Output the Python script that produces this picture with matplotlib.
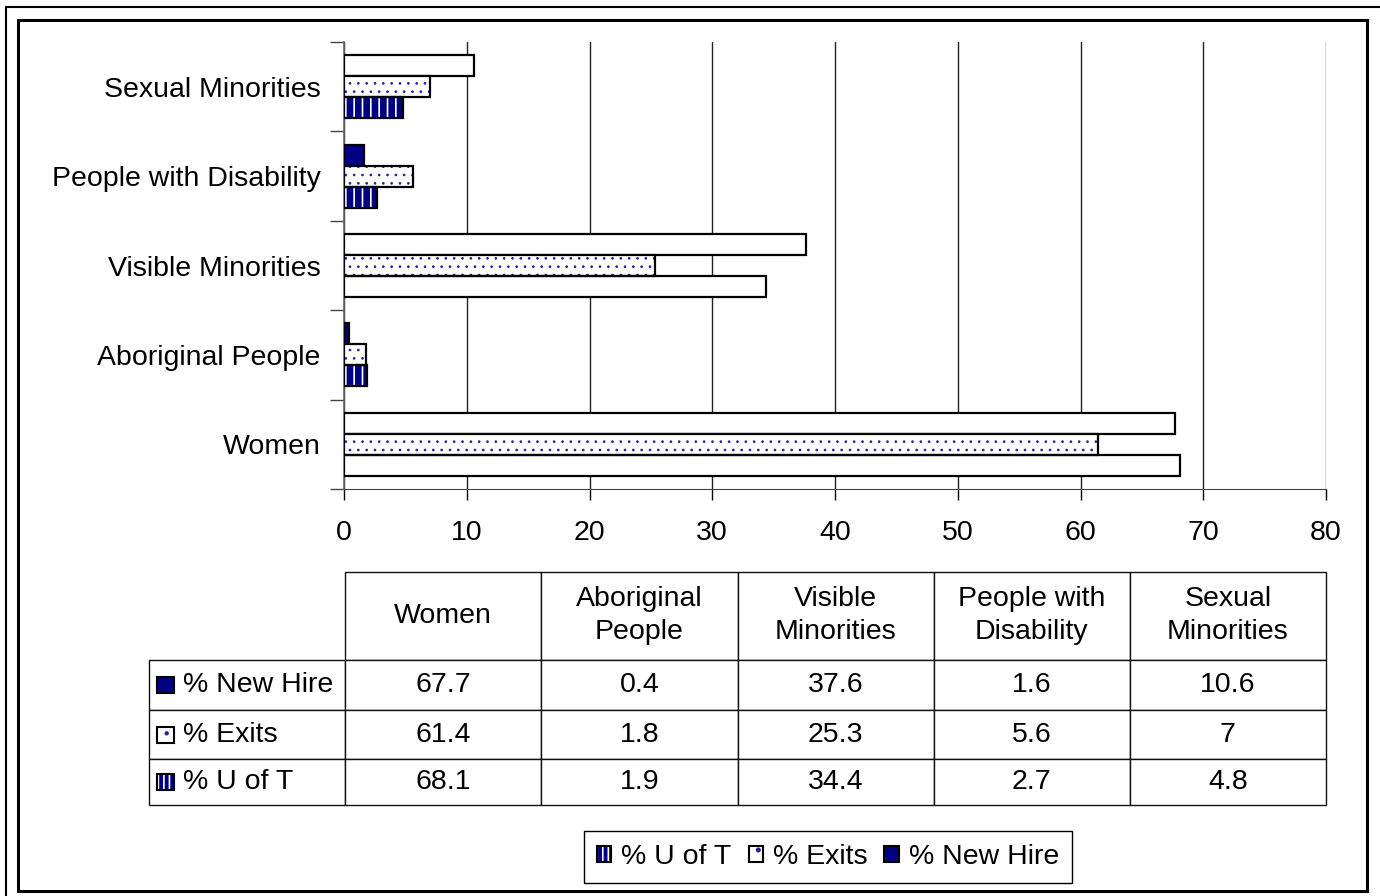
import matplotlib
matplotlib.use('Agg')
import matplotlib.pyplot as plt
from matplotlib.patches import Patch, Rectangle
import numpy as np

plt.rcParams['font.family'] = ['Liberation Sans', 'DejaVu Sans']
plt.rcParams['hatch.linewidth'] = 1.2

# Data (bottom to top on the chart, left to right in the table)
categories = ['Women', 'Aboriginal People', 'Visible Minorities',
              'People with Disability', 'Sexual Minorities']
header_labels = ['Women', 'Aboriginal\nPeople', 'Visible\nMinorities',
                 'People with\nDisability', 'Sexual\nMinorities']
new_hire = [67.7, 0.4, 37.6, 1.6, 10.6]
exits = [61.4, 1.8, 25.3, 5.6, 7]
u_of_t = [68.1, 1.9, 34.4, 2.7, 4.8]
row_names = ['% New Hire', '% Exits', '% U of T']
x_ticks = [0, 10, 20, 30, 40, 50, 60, 70, 80]

NAVY = '#000080'
DOT = '#2020a0'
FS = 20.5
W, H = 1380, 896


def thin_hatch(patches, lw):
    for p in patches:
        if hasattr(p, 'set_hatch_linewidth'):
            p.set_hatch_linewidth(lw)


fig = plt.figure(figsize=(W / 100, H / 100), dpi=100)
ax = fig.add_axes([344 / W, 1 - 489 / H, (1326 - 344) / W, (489 - 42) / H])

y = np.arange(len(categories))
h = 0.235

# % New Hire (top bar of each group) - long bars come out white in the original
ax.barh(y + h, new_hire, height=h,
        color=[NAVY if v <= 10 else 'white' for v in new_hire],
        edgecolor='black', linewidth=1.6, zorder=3)

# % Exits - white with blue dots
ex_bars = ax.barh(y, exits, height=h, color='white', edgecolor=DOT, hatch='..',
                  linewidth=0, zorder=3)
thin_hatch(ex_bars, 0.7)
ax.barh(y, exits, height=h, fill=False, edgecolor='black', linewidth=1.6, zorder=4)

# % U of T - navy with white stripes
uoft_bars = ax.barh(y - h, u_of_t, height=h, color=NAVY, edgecolor='white',
                    hatch='||', linewidth=0, zorder=3)
for bar, v in zip(uoft_bars, u_of_t):
    if v > 10:
        bar.set_facecolor('white')
        bar.set_hatch(None)
ax.barh(y - h, u_of_t, height=h, fill=False, edgecolor='black', linewidth=1.6, zorder=4)

ax.set_xlim(0, 80)
ax.set_ylim(-0.5, len(categories) - 0.5)
ax.set_xticks(x_ticks)
ax.set_xticklabels([str(t) for t in x_ticks], fontsize=FS)
ax.tick_params(axis='x', direction='out', length=8, width=1, pad=14)

ax.set_yticks(np.arange(len(categories) + 1) - 0.5)
ax.set_yticklabels([])
ax.set_yticks(y, minor=True)
ax.set_yticklabels(categories, minor=True, fontsize=FS)
ax.tick_params(axis='y', which='major', direction='out', length=10, width=1, color='#444444')
ax.tick_params(axis='y', which='minor', length=0, pad=17)

ax.grid(True, axis='x', color='#222222', linewidth=1.0)
ax.set_axisbelow(True)
for s in ['top', 'right']:
    ax.spines[s].set_visible(False)
ax.spines['left'].set_color('#666666')
ax.spines['left'].set_linewidth(1.2)
ax.spines['bottom'].set_color('#444444')

# Data table under the chart (first column holds the series names)
cell_text = [[name] + [f'{v:g}' for v in s]
             for name, s in zip(row_names, (new_hire, exits, u_of_t))]
tbl = ax.table(cellText=cell_text, colLabels=[''] + header_labels,
               cellLoc='center',
               bbox=[(149 - 344) / 982, (489 - 805) / 447,
                     (1326 - 149) / 982, (805 - 572) / 447])
tbl.auto_set_font_size(False)
tbl.set_fontsize(FS)
row_heights = [88, 51, 49, 46]
for (r, c), cell in tbl.get_celld().items():
    cell.set_height(row_heights[r])
    cell.set_width(196)
    cell.set_edgecolor('#111111')
    cell.set_linewidth(1.0)
    if r == 0:
        cell.get_text().set_linespacing(1.35)
        if c == 0:
            cell.visible_edges = ''
    if c == 0 and r > 0:
        cell.get_text().set_horizontalalignment('left')
        cell.PAD = 0.175

# legend keys inside the series name cells
key_w, key_h = 17 / 982, 16 / 447
key_rows = [684.5, 734.5, 782]
key_x = (157 - 344) / 982
for yc, name in zip(key_rows, row_names):
    yb = (489 - yc) / 447 - key_h / 2
    if name == '% New Hire':
        ax.add_patch(Rectangle((key_x, yb), key_w, key_h, transform=ax.transAxes,
                               facecolor=NAVY, edgecolor='black', lw=1.5, clip_on=False))
    elif name == '% Exits':
        k = ax.add_patch(Rectangle((key_x, yb), key_w, key_h, transform=ax.transAxes,
                                   facecolor='white', edgecolor=DOT, hatch='.', lw=0,
                                   clip_on=False))
        thin_hatch([k], 0.7)
        ax.add_patch(Rectangle((key_x, yb), key_w, key_h, transform=ax.transAxes,
                               fill=False, edgecolor='black', lw=1.5, clip_on=False))
    else:
        ax.add_patch(Rectangle((key_x, yb), key_w, key_h, transform=ax.transAxes,
                               facecolor=NAVY, edgecolor='white', hatch='|||', lw=0,
                               clip_on=False))
        ax.add_patch(Rectangle((key_x, yb), key_w, key_h, transform=ax.transAxes,
                               fill=False, edgecolor='black', lw=1.5, clip_on=False))

# Legend at the bottom
ex_key = Patch(facecolor='white', edgecolor=DOT, hatch='.', lw=0)
thin_hatch([ex_key], 0.7)
h_uoft = (Patch(facecolor=NAVY, edgecolor='white', hatch='|||', lw=0),
          Patch(fill=False, edgecolor='black', lw=1.5))
h_exit = (ex_key, Patch(fill=False, edgecolor='black', lw=1.5))
h_new = Patch(facecolor=NAVY, edgecolor='black', lw=1.5)
leg = fig.legend([h_uoft, h_exit, h_new], ['% U of T', '% Exits', '% New Hire'],
                 loc='center', bbox_to_anchor=(828 / W, 1 - 857 / H), ncol=3,
                 fontsize=FS, handlelength=0.5, handleheight=0.5,
                 handletextpad=0.35, columnspacing=0.6, borderpad=0.45,
                 borderaxespad=0, fancybox=False, framealpha=1, edgecolor='black')
leg.get_frame().set_linewidth(1.0)

# chart borders
fig.add_artist(Rectangle((6 / W, -0.1), 1.2, 1.1 - 7 / H, transform=fig.transFigure,
                         fill=False, edgecolor='black', lw=1.5))
fig.add_artist(Rectangle((18 / W, 1 - 891 / H), (1367 - 18) / W, (891 - 20) / H,
                         transform=fig.transFigure, fill=False, edgecolor='black', lw=2.2))

fig.savefig('out.png', dpi=100)
